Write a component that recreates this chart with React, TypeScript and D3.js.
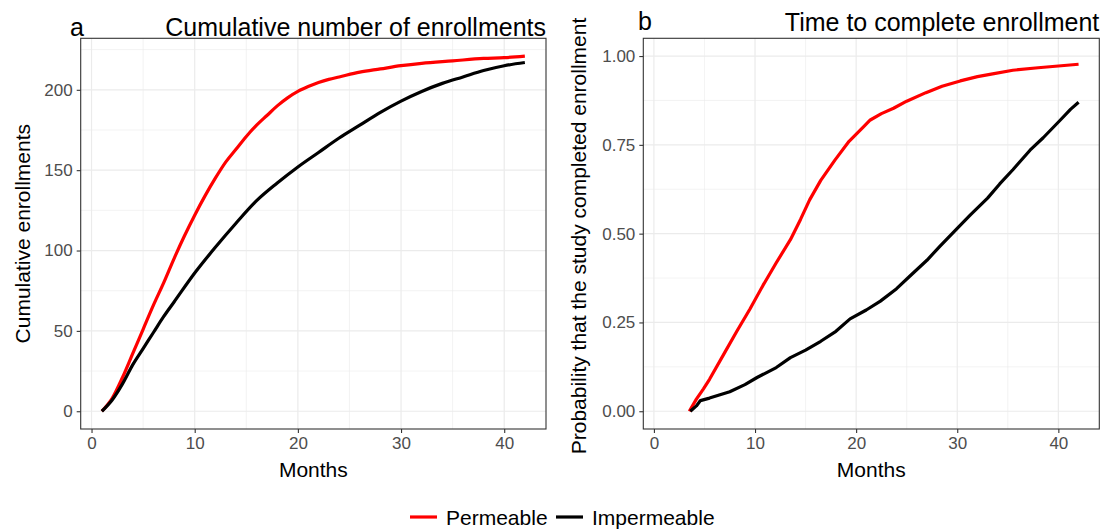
import React, { useEffect, useRef } from "react";
import * as d3 from "d3";

// Panel a: cumulative enrollments by month
const permeableMonthsA = [1, 2, 3, 4, 5, 6, 7, 8, 9, 10, 11, 12, 13, 14, 15, 16, 17, 18, 19, 20, 21, 22, 23, 24, 26, 28, 30, 32, 35, 38, 40, 42];
const permeableEnroll = [0, 8, 21, 36, 51, 66, 80, 95, 109, 122, 134, 145, 155, 163, 171, 178, 184, 190, 195, 199, 202, 204.5, 206.5, 208, 211, 213, 215, 216.5, 218, 219.5, 220, 221];
const impermeableMonthsA = [1, 2, 3, 4, 5, 6, 7, 8, 10, 12, 14, 16, 18, 20, 22, 24, 26, 28, 30, 32, 34, 36, 38, 40, 42];
const impermeableEnroll = [0, 7, 17, 29, 39, 49, 59, 68, 86, 102, 117, 131, 142, 152, 161, 170, 178, 186, 193, 199, 204, 208, 212, 215, 217];

// Panel b: probability that enrollment is complete
const permeableMonthsB = [3.5, 4.2, 4.9, 5.5, 6.9, 8.2, 9.5, 10.8, 12.1, 13.5, 14.5, 15.4, 16.5, 17.9, 19.3, 20.7, 21.4, 22.5, 23.7, 25, 26.9, 28.5, 30.3, 32, 33.5, 35.5, 38, 40, 42];
const permeableProb = [0, 0.034, 0.063, 0.09, 0.16, 0.225, 0.288, 0.355, 0.418, 0.483, 0.54, 0.595, 0.65, 0.707, 0.76, 0.8, 0.82, 0.838, 0.853, 0.873, 0.897, 0.915, 0.93, 0.942, 0.95, 0.96, 0.967, 0.972, 0.977];
const impermeableMonthsB = [3.6, 4.2, 4.6, 5.5, 7.5, 9, 10.2, 12.1, 13.5, 15, 16.5, 18, 19.4, 21, 22.4, 24, 25.3, 27, 28.3, 30, 31.3, 33, 34.2, 35.5, 37.2, 38.5, 40.2, 41.2, 42];
const impermeableProb = [0, 0.015, 0.03, 0.037, 0.055, 0.075, 0.095, 0.123, 0.151, 0.172, 0.197, 0.225, 0.26, 0.285, 0.31, 0.345, 0.38, 0.425, 0.465, 0.515, 0.553, 0.6, 0.64, 0.68, 0.735, 0.77, 0.82, 0.85, 0.87];

const xTicks = [0, 10, 20, 30, 40];
const yTicksA = [0, 50, 100, 150, 200];
const yTicksB = [0, 0.25, 0.5, 0.75, 1];

const seriesNames = ["Permeable", "Impermeable"];
const seriesColors = ["#FF0000", "#000000"];

const FONT = "'Liberation Sans', Arial, Helvetica, sans-serif";

// ggplot-style 5% expansion
const expand = ([lo, hi]) => {
  const pad = (hi - lo) * 0.05;
  return [lo - pad, hi + pad];
};

const App = () => {
  const svgRef = useRef(null);

  useEffect(() => {
    const svg = d3.select(svgRef.current);
    svg.selectAll("*").remove();

    const top = 38.3;
    const bottom = 429;

    const drawPanel = (cfg) => {
      const g = svg.append("g");
      const x = d3.scaleLinear().domain(expand([1, 42])).range([cfg.left, cfg.right]);
      const y = d3.scaleLinear().domain(expand(cfg.yData)).range([bottom, top]);

      // background grid
      const minorX = xTicks.slice(0, -1).map((t) => t + 5);
      const yStep = cfg.yTicks[1] - cfg.yTicks[0];
      const minorY = cfg.yTicks.map((t) => t + yStep / 2).filter((t) => y(t) > top);

      g.selectAll(".mx").data(minorX).enter().append("line")
        .attr("x1", (d) => x(d)).attr("x2", (d) => x(d))
        .attr("y1", top).attr("y2", bottom)
        .attr("stroke", "#EBEBEB").attr("stroke-width", 0.6);
      g.selectAll(".my").data(minorY).enter().append("line")
        .attr("x1", cfg.left).attr("x2", cfg.right)
        .attr("y1", (d) => y(d)).attr("y2", (d) => y(d))
        .attr("stroke", "#EBEBEB").attr("stroke-width", 0.6);
      g.selectAll(".gx").data(xTicks).enter().append("line")
        .attr("x1", (d) => x(d)).attr("x2", (d) => x(d))
        .attr("y1", top).attr("y2", bottom)
        .attr("stroke", "#EBEBEB").attr("stroke-width", 1.2);
      g.selectAll(".gy").data(cfg.yTicks).enter().append("line")
        .attr("x1", cfg.left).attr("x2", cfg.right)
        .attr("y1", (d) => y(d)).attr("y2", (d) => y(d))
        .attr("stroke", "#EBEBEB").attr("stroke-width", 1.2);

      // data lines
      const line = d3.line().x((d) => x(d[0])).y((d) => y(d[1])).curve(cfg.curve);
      cfg.series.forEach((s, i) => {
        const pts = s.xs.map((v, j) => [v, s.ys[j]]);
        g.append("path")
          .datum(pts)
          .attr("fill", "none")
          .attr("stroke", seriesColors[i])
          .attr("stroke-width", 3.2)
          .attr("stroke-linejoin", "round")
          .attr("d", line);
      });

      // panel border
      g.append("rect")
        .attr("x", cfg.left).attr("y", top)
        .attr("width", cfg.right - cfg.left).attr("height", bottom - top)
        .attr("fill", "none").attr("stroke", "#333333").attr("stroke-width", 1.1);

      // x axis
      const xa = g.append("g").attr("transform", `translate(0,${bottom})`)
        .call(d3.axisBottom(x).tickValues(xTicks).tickSize(4).tickPadding(4));
      xa.select(".domain").remove();
      xa.selectAll("line").attr("stroke", "#333333").attr("stroke-width", 1.1);
      xa.selectAll("text").attr("fill", "#4D4D4D").attr("font-size", 17).attr("font-family", FONT);

      // y axis
      const ya = g.append("g").attr("transform", `translate(${cfg.left},0)`)
        .call(d3.axisLeft(y).tickValues(cfg.yTicks).tickSize(4).tickPadding(4).tickFormat(cfg.fmt));
      ya.select(".domain").remove();
      ya.selectAll("line").attr("stroke", "#333333").attr("stroke-width", 1.1);
      ya.selectAll("text").attr("fill", "#4D4D4D").attr("font-size", 17).attr("font-family", FONT);

      // axis titles
      g.append("text")
        .attr("x", (cfg.left + cfg.right) / 2).attr("y", 477)
        .attr("text-anchor", "middle").attr("font-size", 21).attr("font-family", FONT)
        .text("Months");
      g.append("text")
        .attr("transform", `translate(${cfg.yTitleX},${cfg.yTitleY}) rotate(-90)`)
        .attr("text-anchor", "middle").attr("font-size", 21).attr("font-family", FONT)
        .text(cfg.yTitle);

      // tag and title
      g.append("text")
        .attr("x", cfg.tagX).attr("y", cfg.titleY - 0.5)
        .attr("font-size", 25).attr("font-family", FONT)
        .text(cfg.tag);
      g.append("text")
        .attr("x", cfg.right).attr("y", cfg.titleY)
        .attr("text-anchor", "end").attr("font-size", 25).attr("font-family", FONT)
        .text(cfg.title);
    };

    drawPanel({
      left: 80.7, right: 546,
      yData: [0, d3.max(permeableEnroll.concat(impermeableEnroll))],
      yTicks: yTicksA, fmt: d3.format("d"),
      curve: d3.curveMonotoneX,
      series: [
        { xs: permeableMonthsA, ys: permeableEnroll },
        { xs: impermeableMonthsA, ys: impermeableEnroll },
      ],
      yTitle: "Cumulative enrollments", yTitleX: 30, yTitleY: 233.7,
      tag: "a", tagX: 70, title: "Cumulative number of enrollments", titleY: 36,
    });

    drawPanel({
      left: 643.3, right: 1099.3,
      yData: [0, 1],
      yTicks: yTicksB, fmt: d3.format(".2f"),
      curve: d3.curveLinear,
      series: [
        { xs: permeableMonthsB, ys: permeableProb },
        { xs: impermeableMonthsB, ys: impermeableProb },
      ],
      yTitle: "Probability that the study completed enrollment", yTitleX: 586, yTitleY: 236,
      tag: "b", tagX: 638, title: "Time to complete enrollment", titleY: 30.5,
    });

    // legend
    const legendItems = [
      { x: 410, textX: 446 },
      { x: 556, textX: 592 },
    ];
    const lg = svg.append("g");
    legendItems.forEach((it, i) => {
      lg.append("line")
        .attr("x1", it.x).attr("x2", it.x + 27)
        .attr("y1", 517).attr("y2", 517)
        .attr("stroke", seriesColors[i]).attr("stroke-width", 3.2);
      lg.append("text")
        .attr("x", it.textX).attr("y", 524.5)
        .attr("font-size", 21).attr("font-family", FONT)
        .text(seriesNames[i]);
    });
  }, []);

  return (
    <div style={{ position: "absolute", left: 0, top: 0 }}>
      <svg ref={svgRef} width={1106} height={529} style={{ background: "white", display: "block" }}></svg>
    </div>
  );
};

export default App;
